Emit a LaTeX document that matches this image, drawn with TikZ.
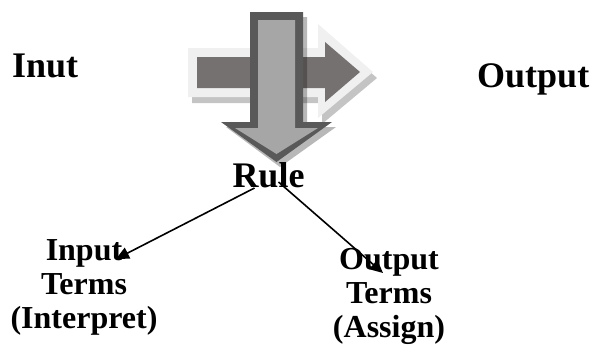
\documentclass[tikz,border=0pt]{standalone}
\usepackage{fontspec}
\setmainfont{Liberation Serif}
\usetikzlibrary{arrows.meta}
\definecolor{shaftgrey}{HTML}{767171}
\definecolor{rimgrey}{HTML}{F0F0F0}
\definecolor{dropgrey}{HTML}{C4C4C4}
\definecolor{framegrey}{HTML}{595959}
\definecolor{coregrey}{HTML}{A6A6A6}
\begin{document}
\begin{tikzpicture}[x=1pt,y=-1pt,
  biglabel/.style={font=\bfseries\fontsize{36}{40}\selectfont, inner sep=0pt},
  termlabel/.style={font=\bfseries\fontsize{32}{34}\selectfont, inner sep=0pt, align=center},
  conn/.style={line width=1.6pt, -{Triangle[length=13pt,width=12pt]}}]
\useasboundingbox (0,0) rectangle (593,349);

% horizontal block arrow: drop shadow, pale rim, dark body
\fill[dropgrey] (192,54) -- (322,54) -- (322,30) -- (377,78) -- (322,124) -- (322,103) -- (192,103) -- cycle;
\fill[rimgrey] (188,48) -- (318,48) -- (318,24) -- (373,72) -- (318,118) -- (318,97) -- (188,97) -- cycle;
\fill[shaftgrey] (197,57) -- (325,57) -- (325,42) -- (360,72) -- (325,102) -- (325,88) -- (197,88) -- cycle;

% vertical block arrow: translucent shadow, dark frame, light core
\fill[black, opacity=0.28] (254,17) -- (307,17) -- (307,127) -- (336,127) -- (280,167) -- (226,127) -- (254,127) -- cycle;
\fill[framegrey] (250,12) -- (303,12) -- (303,122) -- (332,122) -- (276.5,162) -- (221,122) -- (250,122) -- cycle;
\fill[coregrey] (258,20) -- (295,20) -- (295,128) -- (318,128) -- (276.5,154) -- (235,128) -- (258,128) -- cycle;

% labels (base of a multi-line node is its last line)
\node[biglabel, anchor=base west] (inut) at (12,77) {Inut};
\node[biglabel, anchor=base west] (output) at (477,87) {Output};
\node[biglabel, anchor=base] (rule) at (268.5,187) {Rule};
\node[termlabel, anchor=base] (interm) at (84,328) {Input\\Terms\\(Interpret)};
\node[termlabel, anchor=base] (outterm) at (389,337) {Output\\Terms\\(Assign)};

% connectors from the rule to its terms
\coordinate (intip) at (116,259);
\coordinate (outtip) at (383,273);
\draw[conn] ([shift={(-14,1)}]rule.base) -- (intip);
\draw[conn] ([shift={(10,-5)}]rule.base) -- (outtip);
\end{tikzpicture}
\end{document}
